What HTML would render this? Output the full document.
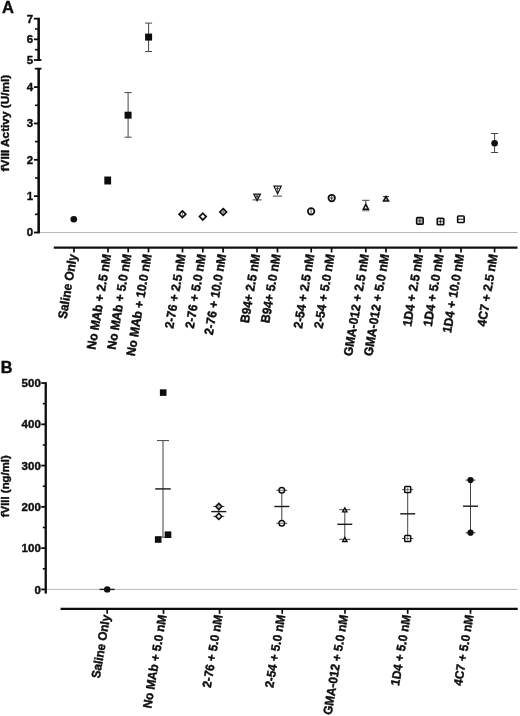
<!DOCTYPE html><html><head><meta charset="utf-8"><style>html,body{margin:0;padding:0;background:#fff}svg{display:block}text{font-family:"Liberation Sans",sans-serif;font-weight:bold;fill:#0c0c0c;stroke:#0c0c0c;stroke-width:0.4px;stroke-linejoin:round}</style></head><body>
<svg width="520" height="716" viewBox="0 0 520 716">
<defs><filter id="b" x="-5%" y="-5%" width="110%" height="110%"><feGaussianBlur stdDeviation="0.45"/></filter></defs>
<rect width="520" height="716" fill="#fff"/>
<g filter="url(#b)">
<text x="2" y="13.2" font-size="16.5">A</text>
<line x1="38.65" y1="232.5" x2="517.7" y2="232.5" stroke="#b8b8b8" stroke-width="1"/>
<line x1="38.65" y1="67.9" x2="38.65" y2="233.4" stroke="#111" stroke-width="2.6"/>
<line x1="38.65" y1="17.800000000000004" x2="38.65" y2="60.9" stroke="#111" stroke-width="2.6"/>
<line x1="34.8" y1="68.7" x2="41.5" y2="68.7" stroke="#111" stroke-width="1.8"/>
<line x1="33.9" y1="232.5" x2="38.65" y2="232.5" stroke="#111" stroke-width="1.8"/>
<text x="33.2" y="236.3" font-size="11.5" text-anchor="end">0</text>
<line x1="33.9" y1="196.15" x2="38.65" y2="196.15" stroke="#111" stroke-width="1.8"/>
<text x="33.2" y="199.95000000000002" font-size="11.5" text-anchor="end">1</text>
<line x1="33.9" y1="159.8" x2="38.65" y2="159.8" stroke="#111" stroke-width="1.8"/>
<text x="33.2" y="163.60000000000002" font-size="11.5" text-anchor="end">2</text>
<line x1="33.9" y1="123.44999999999999" x2="38.65" y2="123.44999999999999" stroke="#111" stroke-width="1.8"/>
<text x="33.2" y="127.24999999999999" font-size="11.5" text-anchor="end">3</text>
<line x1="33.9" y1="87.1" x2="38.65" y2="87.1" stroke="#111" stroke-width="1.8"/>
<text x="33.2" y="90.89999999999999" font-size="11.5" text-anchor="end">4</text>
<line x1="33.9" y1="60.0" x2="41.5" y2="60.0" stroke="#111" stroke-width="1.8"/>
<text x="33.2" y="63.8" font-size="11.5" text-anchor="end">5</text>
<line x1="33.9" y1="39.35" x2="38.65" y2="39.35" stroke="#111" stroke-width="1.8"/>
<text x="33.2" y="43.15" font-size="11.5" text-anchor="end">6</text>
<line x1="33.9" y1="18.700000000000003" x2="38.65" y2="18.700000000000003" stroke="#111" stroke-width="1.8"/>
<text x="33.2" y="22.500000000000004" font-size="11.5" text-anchor="end">7</text>
<line x1="35" y1="214.325" x2="38.65" y2="214.325" stroke="#111" stroke-width="1.6"/>
<line x1="35" y1="177.975" x2="38.65" y2="177.975" stroke="#111" stroke-width="1.6"/>
<line x1="35" y1="141.625" x2="38.65" y2="141.625" stroke="#111" stroke-width="1.6"/>
<line x1="35" y1="105.27499999999999" x2="38.65" y2="105.27499999999999" stroke="#111" stroke-width="1.6"/>
<line x1="35" y1="49.675" x2="38.65" y2="49.675" stroke="#111" stroke-width="1.6"/>
<line x1="35" y1="29.025000000000002" x2="38.65" y2="29.025000000000002" stroke="#111" stroke-width="1.6"/>
<text transform="translate(9.4,123.1) rotate(-90)" font-size="11.8" text-anchor="middle">fVIII Activy (U/ml)</text>
<line x1="53.8" y1="247.5" x2="517.5" y2="247.5" stroke="#111" stroke-width="2.25"/>
<line x1="74" y1="247.5" x2="74" y2="252.4" stroke="#111" stroke-width="1.7"/>
<text transform="translate(77.1,254.9) rotate(-80.6) scale(1,1.05)" font-size="12" text-anchor="end" stroke-width="0.4">Saline Only</text>
<line x1="108" y1="247.5" x2="108" y2="252.4" stroke="#111" stroke-width="1.7"/>
<text transform="translate(111.1,254.9) rotate(-80.6) scale(1,1.05)" font-size="12" text-anchor="end" stroke-width="0.4">No MAb + 2.5 nM</text>
<line x1="128.2" y1="247.5" x2="128.2" y2="252.4" stroke="#111" stroke-width="1.7"/>
<text transform="translate(131.29999999999998,254.9) rotate(-80.6) scale(1,1.05)" font-size="12" text-anchor="end" stroke-width="0.4">No MAb + 5.0 nM</text>
<line x1="148.5" y1="247.5" x2="148.5" y2="252.4" stroke="#111" stroke-width="1.7"/>
<text transform="translate(151.6,254.9) rotate(-80.6) scale(1,1.05)" font-size="12" text-anchor="end" stroke-width="0.4">No MAb + 10.0 nM</text>
<line x1="182.5" y1="247.5" x2="182.5" y2="252.4" stroke="#111" stroke-width="1.7"/>
<text transform="translate(185.6,254.9) rotate(-80.6) scale(1,1.05)" font-size="12" text-anchor="end" stroke-width="0.4">2-76 + 2.5 nM</text>
<line x1="202.8" y1="247.5" x2="202.8" y2="252.4" stroke="#111" stroke-width="1.7"/>
<text transform="translate(205.9,254.9) rotate(-80.6) scale(1,1.05)" font-size="12" text-anchor="end" stroke-width="0.4">2-76 + 5.0 nM</text>
<line x1="223.1" y1="247.5" x2="223.1" y2="252.4" stroke="#111" stroke-width="1.7"/>
<text transform="translate(226.2,254.9) rotate(-80.6) scale(1,1.05)" font-size="12" text-anchor="end" stroke-width="0.4">2-76 + 10.0 nM</text>
<line x1="257" y1="247.5" x2="257" y2="252.4" stroke="#111" stroke-width="1.7"/>
<text transform="translate(260.1,254.9) rotate(-80.6) scale(1,1.05)" font-size="12" text-anchor="end" stroke-width="0.4">B94+ 2.5 nM</text>
<line x1="277.5" y1="247.5" x2="277.5" y2="252.4" stroke="#111" stroke-width="1.7"/>
<text transform="translate(280.6,254.9) rotate(-80.6) scale(1,1.05)" font-size="12" text-anchor="end" stroke-width="0.4">B94+ 5.0 nM</text>
<line x1="311.2" y1="247.5" x2="311.2" y2="252.4" stroke="#111" stroke-width="1.7"/>
<text transform="translate(314.3,254.9) rotate(-80.6) scale(1,1.05)" font-size="12" text-anchor="end" stroke-width="0.4">2-54 + 2.5 nM</text>
<line x1="331.6" y1="247.5" x2="331.6" y2="252.4" stroke="#111" stroke-width="1.7"/>
<text transform="translate(334.70000000000005,254.9) rotate(-80.6) scale(1,1.05)" font-size="12" text-anchor="end" stroke-width="0.4">2-54 + 5.0 nM</text>
<line x1="365.8" y1="247.5" x2="365.8" y2="252.4" stroke="#111" stroke-width="1.7"/>
<text transform="translate(368.90000000000003,254.9) rotate(-80.6) scale(1,1.05)" font-size="12" text-anchor="end" stroke-width="0.4">GMA-012 + 2.5 nM</text>
<line x1="386" y1="247.5" x2="386" y2="252.4" stroke="#111" stroke-width="1.7"/>
<text transform="translate(389.1,254.9) rotate(-80.6) scale(1,1.05)" font-size="12" text-anchor="end" stroke-width="0.4">GMA-012 + 5.0 nM</text>
<line x1="420" y1="247.5" x2="420" y2="252.4" stroke="#111" stroke-width="1.7"/>
<text transform="translate(423.1,254.9) rotate(-80.6) scale(1,1.05)" font-size="12" text-anchor="end" stroke-width="0.4">1D4 + 2.5 nM</text>
<line x1="440.5" y1="247.5" x2="440.5" y2="252.4" stroke="#111" stroke-width="1.7"/>
<text transform="translate(443.6,254.9) rotate(-80.6) scale(1,1.05)" font-size="12" text-anchor="end" stroke-width="0.4">1D4 + 5.0 nM</text>
<line x1="461" y1="247.5" x2="461" y2="252.4" stroke="#111" stroke-width="1.7"/>
<text transform="translate(464.1,254.9) rotate(-80.6) scale(1,1.05)" font-size="12" text-anchor="end" stroke-width="0.4">1D4 + 10.0 nM</text>
<line x1="494.6" y1="247.5" x2="494.6" y2="252.4" stroke="#111" stroke-width="1.7"/>
<text transform="translate(497.70000000000005,254.9) rotate(-80.6) scale(1,1.05)" font-size="12" text-anchor="end" stroke-width="0.4">4C7 + 2.5 nM</text>
<circle cx="73.8" cy="219.2" r="3.3" fill="#111"/>
<rect x="104.3" y="176.5" width="6.8" height="8" fill="#111"/>
<path d="M128.1 92.6V137.2M124.6 92.6h7M124.6 137.2h7" stroke="#444" stroke-width="1" fill="none"/>
<rect x="124.6" y="111.7" width="7" height="7" fill="#111"/>
<path d="M148.6 23.1V51.5M145.1 23.1h7M145.1 51.5h7" stroke="#444" stroke-width="1" fill="none"/>
<rect x="145.1" y="33.6" width="7" height="7" fill="#111"/>
<path d="M182.4 210.85L185.75 214.2L182.4 217.54999999999998L179.05 214.2Z" fill="#fff" stroke="#111" stroke-width="1.7"/>
<path d="M182.4 212.2v4" stroke="#444" stroke-width="0.7"/>
<path d="M202.8 213.25L206.15 216.6L202.8 219.95L199.45000000000002 216.6Z" fill="#fff" stroke="#111" stroke-width="1.7"/>
<path d="M223.2 208.65L226.54999999999998 212L223.2 215.35L219.85 212Z" fill="#fff" stroke="#111" stroke-width="1.7"/>
<path d="M223.2 210v4M221.6 212h3.2" stroke="#444" stroke-width="0.7"/>
<path d="M252.6 199.9h9" stroke="#444" stroke-width="1"/>
<polygon points="252.80,193.60 261.40,193.60 257.10,201.90" fill="#111"/>
<polygon points="254.69,194.75 259.51,194.75 257.10,199.40" fill="#bbb"/>
<path d="M257.1 195v4M255.4 196.4h3.4" stroke="#222" stroke-width="0.7"/>
<path d="M273 196.1h9" stroke="#444" stroke-width="1"/>
<polygon points="273.05,185.60 282.15,185.60 277.60,195.20" fill="#111"/>
<polygon points="274.95,186.80 280.25,186.80 277.60,192.40" fill="#fff"/>
<path d="M277.6 187v7M276 188.4h3.2" stroke="#222" stroke-width="0.8"/>
<circle cx="311.1" cy="211.3" r="3.25" fill="#fff" stroke="#111" stroke-width="1.75"/>
<path d="M311.1 209v4.6" stroke="#222" stroke-width="0.8"/>
<circle cx="331.7" cy="198" r="3.25" fill="#f4f4f4" stroke="#111" stroke-width="1.75"/>
<path d="M331.7 196v4M330 198h3.4" stroke="#222" stroke-width="0.8"/>
<path d="M362.1 200.3h7.4M365.8 200.3v3" stroke="#444" stroke-width="1"/>
<polygon points="362.05,210.10 369.55,210.10 365.80,202.50" fill="#111"/>
<polygon points="364.46,208.60 367.14,208.60 365.80,205.89" fill="#eee"/>
<path d="M362.1 210.8h7.4" stroke="#444" stroke-width="0.8"/>
<polygon points="382.15,201.80 389.85,201.80 386.00,194.90" fill="#111"/>
<polygon points="384.70,200.30 387.30,200.30 386.00,197.98" fill="#aaa"/>
<path d="M383 196.6h6" stroke="#111" stroke-width="0.9"/>
<rect x="416.65" y="217.65" width="6.5" height="6.5" rx="0.8" fill="#ccc" stroke="#111" stroke-width="1.6"/>
<path d="M419.9 218.6v4.6M418 220.9h3.8" stroke="#111" stroke-width="0.7"/>
<rect x="437.25" y="218.25" width="6.5" height="6.5" rx="0.8" fill="#ccc" stroke="#111" stroke-width="1.6"/>
<path d="M440.5 219.2v4.6M438.6 221.5h3.8" stroke="#111" stroke-width="0.7"/>
<rect x="457.65" y="215.95" width="6.5" height="6.5" rx="0.8" fill="#fff" stroke="#111" stroke-width="1.6"/>
<path d="M458 219.2h5.8" stroke="#111" stroke-width="1"/>
<path d="M494.6 133.5V152.5M491.1 133.5h7M491.1 152.5h7" stroke="#444" stroke-width="1" fill="none"/>
<circle cx="494.6" cy="143.3" r="3.3" fill="#111"/>
<text x="0.8" y="373.4" font-size="16.2">B</text>
<line x1="45.75" y1="589.4" x2="517.7" y2="589.4" stroke="#b8b8b8" stroke-width="1"/>
<line x1="45.75" y1="382.15" x2="45.75" y2="593.6" stroke="#111" stroke-width="2.3"/>
<line x1="41.2" y1="589.4" x2="45.75" y2="589.4" stroke="#111" stroke-width="1.8"/>
<text x="40.8" y="593.5" font-size="11.5" text-anchor="end" stroke-width="0.2">0</text>
<line x1="41.2" y1="548.13" x2="45.75" y2="548.13" stroke="#111" stroke-width="1.8"/>
<text x="40.8" y="552.23" font-size="11.5" text-anchor="end" stroke-width="0.2">100</text>
<line x1="41.2" y1="506.85999999999996" x2="45.75" y2="506.85999999999996" stroke="#111" stroke-width="1.8"/>
<text x="40.8" y="510.96" font-size="11.5" text-anchor="end" stroke-width="0.2">200</text>
<line x1="41.2" y1="465.59" x2="45.75" y2="465.59" stroke="#111" stroke-width="1.8"/>
<text x="40.8" y="469.69" font-size="11.5" text-anchor="end" stroke-width="0.2">300</text>
<line x1="41.2" y1="424.31999999999994" x2="45.75" y2="424.31999999999994" stroke="#111" stroke-width="1.8"/>
<text x="40.8" y="428.41999999999996" font-size="11.5" text-anchor="end" stroke-width="0.2">400</text>
<line x1="41.2" y1="383.04999999999995" x2="45.75" y2="383.04999999999995" stroke="#111" stroke-width="1.8"/>
<text x="40.8" y="387.15" font-size="11.5" text-anchor="end" stroke-width="0.2">500</text>
<line x1="42.8" y1="568.765" x2="45.75" y2="568.765" stroke="#111" stroke-width="1.6"/>
<line x1="42.8" y1="527.495" x2="45.75" y2="527.495" stroke="#111" stroke-width="1.6"/>
<line x1="42.8" y1="486.22499999999997" x2="45.75" y2="486.22499999999997" stroke="#111" stroke-width="1.6"/>
<line x1="42.8" y1="444.955" x2="45.75" y2="444.955" stroke="#111" stroke-width="1.6"/>
<line x1="42.8" y1="403.68499999999995" x2="45.75" y2="403.68499999999995" stroke="#111" stroke-width="1.6"/>
<text transform="translate(9.4,486.2) rotate(-90)" font-size="11.4" text-anchor="middle">fVIII (ng/ml)</text>
<line x1="60.6" y1="608.9" x2="517.7" y2="608.9" stroke="#111" stroke-width="2.25"/>
<line x1="107.2" y1="608.9" x2="107.2" y2="613.8" stroke="#111" stroke-width="1.7"/>
<text transform="translate(110.3,615.5) rotate(-80.6) scale(1,1.05)" font-size="11.8" text-anchor="end" stroke-width="0.3">Saline Only</text>
<line x1="163.5" y1="608.9" x2="163.5" y2="613.8" stroke="#111" stroke-width="1.7"/>
<text transform="translate(166.6,615.5) rotate(-80.6) scale(1,1.05)" font-size="11.8" text-anchor="end" stroke-width="0.3">No MAb + 5.0 nM</text>
<line x1="219.6" y1="608.9" x2="219.6" y2="613.8" stroke="#111" stroke-width="1.7"/>
<text transform="translate(222.7,615.5) rotate(-80.6) scale(1,1.05)" font-size="11.8" text-anchor="end" stroke-width="0.3">2-76 + 5.0 nM</text>
<line x1="282.2" y1="608.9" x2="282.2" y2="613.8" stroke="#111" stroke-width="1.7"/>
<text transform="translate(285.3,615.5) rotate(-80.6) scale(1,1.05)" font-size="11.8" text-anchor="end" stroke-width="0.3">2-54 + 5.0 nM</text>
<line x1="345" y1="608.9" x2="345" y2="613.8" stroke="#111" stroke-width="1.7"/>
<text transform="translate(348.1,615.5) rotate(-80.6) scale(1,1.05)" font-size="11.8" text-anchor="end" stroke-width="0.3">GMA-012 + 5.0 nM</text>
<line x1="407.7" y1="608.9" x2="407.7" y2="613.8" stroke="#111" stroke-width="1.7"/>
<text transform="translate(410.8,615.5) rotate(-80.6) scale(1,1.05)" font-size="11.8" text-anchor="end" stroke-width="0.3">1D4 + 5.0 nM</text>
<line x1="470.5" y1="608.9" x2="470.5" y2="613.8" stroke="#111" stroke-width="1.7"/>
<text transform="translate(473.6,615.5) rotate(-80.6) scale(1,1.05)" font-size="11.8" text-anchor="end" stroke-width="0.3">4C7 + 5.0 nM</text>
<path d="M99.6 589.4h15" stroke="#1a1a1a" stroke-width="1.4"/>
<circle cx="107.2" cy="589.4" r="3.2" fill="#111"/>
<path d="M163 440.6V537.2M157.0 440.6h12M157.0 537.2h12" stroke="#444" stroke-width="1" fill="none"/>
<path d="M155.2 488.9h15.6" stroke="#1a1a1a" stroke-width="1.4" fill="none"/>
<rect x="159.89999999999998" y="389.3" width="6.6" height="6.6" fill="#111"/>
<rect x="164.7" y="531.4000000000001" width="6.6" height="6.6" fill="#111"/>
<rect x="154.89999999999998" y="536.2" width="6.6" height="6.6" fill="#111"/>
<path d="M218.8 506.5V516.4M213.3 506.5h11M213.3 516.4h11" stroke="#444" stroke-width="1" fill="none"/>
<path d="M211.3 511.6h15" stroke="#1a1a1a" stroke-width="1.4" fill="none"/>
<path d="M218.8 503.4L221.9 506.5L218.8 509.6L215.70000000000002 506.5Z" fill="#aaa" stroke="#111" stroke-width="1.5"/>
<path d="M218.8 513.3L221.9 516.4L218.8 519.5L215.70000000000002 516.4Z" fill="#e4e4e4" stroke="#111" stroke-width="1.5"/>
<path d="M281.8 490.3V523.3M276.3 490.3h11M276.3 523.3h11" stroke="#444" stroke-width="1" fill="none"/>
<path d="M274.3 506.5h15" stroke="#1a1a1a" stroke-width="1.4" fill="none"/>
<circle cx="281.8" cy="490.3" r="2.8" fill="#fff" stroke="#111" stroke-width="1.5"/>
<circle cx="281.8" cy="523.3" r="2.8" fill="#fff" stroke="#111" stroke-width="1.5"/>
<path d="M279.8 490.3h4M279.8 523.3h4" stroke="#444" stroke-width="0.8"/>
<path d="M344.8 509.7V539.3M339.3 509.7h11M339.3 539.3h11" stroke="#444" stroke-width="1" fill="none"/>
<path d="M337.3 524.3h15" stroke="#1a1a1a" stroke-width="1.4" fill="none"/>
<polygon points="341.50,512.60 348.10,512.60 344.80,506.40" fill="#111"/>
<polygon points="343.91,511.15 345.69,511.15 344.80,509.49" fill="#fff"/>
<polygon points="341.50,542.20 348.10,542.20 344.80,536.00" fill="#111"/>
<polygon points="343.91,540.75 345.69,540.75 344.80,539.09" fill="#fff"/>
<path d="M407.7 489.6V538.5M402.2 489.6h11M402.2 538.5h11" stroke="#444" stroke-width="1" fill="none"/>
<path d="M400.2 513.8h15" stroke="#1a1a1a" stroke-width="1.4" fill="none"/>
<rect x="404.7" y="486.6" width="6.0" height="6.0" rx="0.8" fill="#fff" stroke="#111" stroke-width="1.5"/>
<rect x="404.7" y="535.5" width="6.0" height="6.0" rx="0.8" fill="#fff" stroke="#111" stroke-width="1.5"/>
<path d="M405.7 489.6h4M405.7 538.5h4M407.7 487.6v4M407.7 536.5v4" stroke="#444" stroke-width="0.7"/>
<path d="M470.5 480.1V532.7M465.5 480.1h10M465.5 532.7h10" stroke="#444" stroke-width="1" fill="none"/>
<path d="M463.0 506.2h15" stroke="#1a1a1a" stroke-width="1.4" fill="none"/>
<circle cx="470.5" cy="480.1" r="3.1" fill="#111"/>
<circle cx="470.5" cy="532.7" r="3.1" fill="#111"/>
</g></svg></body></html>
